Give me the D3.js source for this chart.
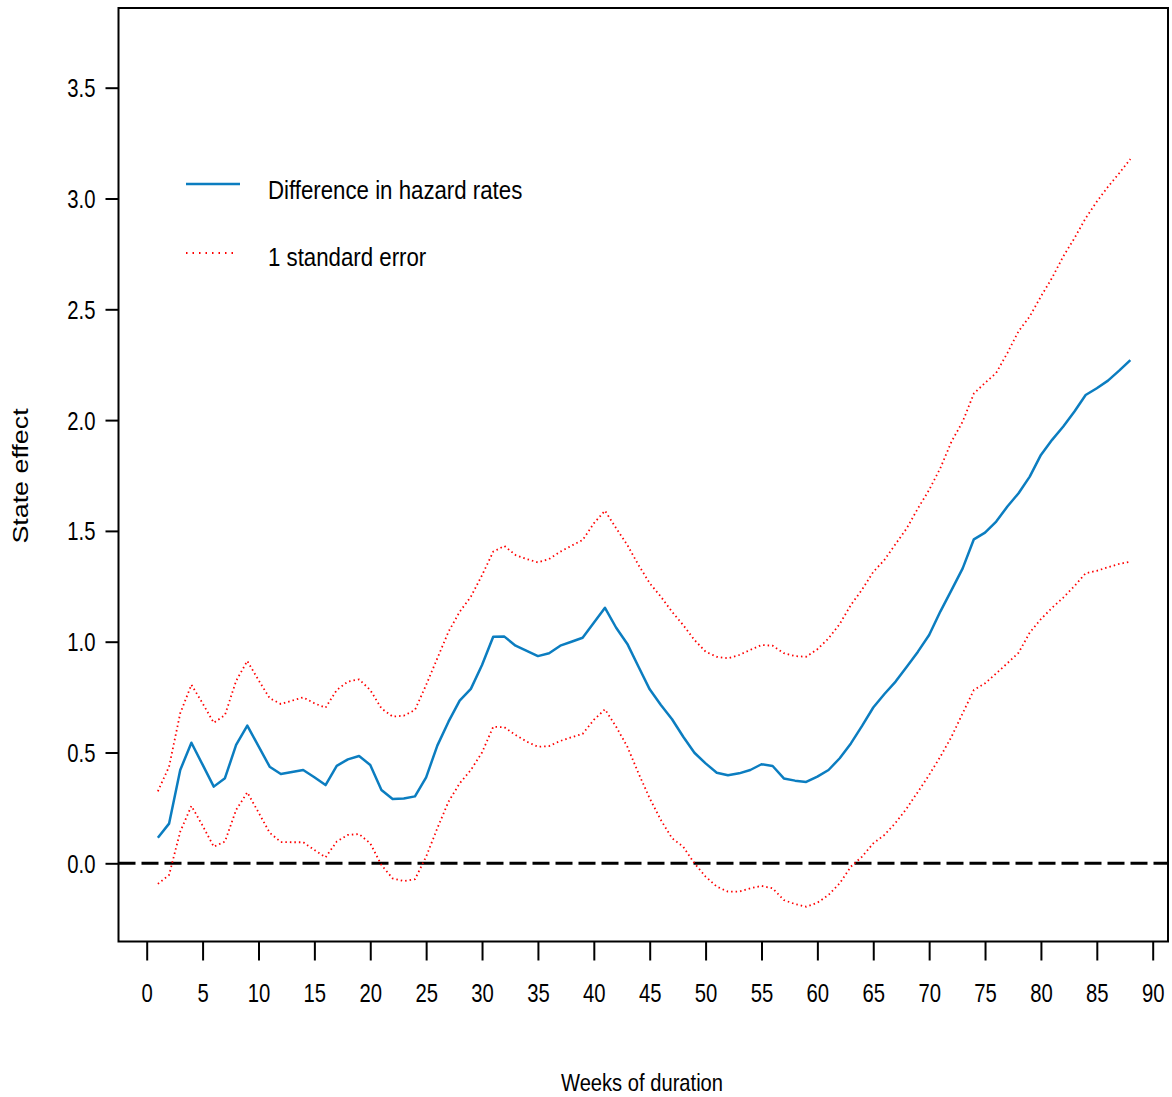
<!DOCTYPE html>
<html>
<head>
<meta charset="utf-8">
<script src="https://cdn.jsdelivr.net/npm/d3@7"></script>
<style>
  body { margin: 0; background: #fff; }
  svg text { fill: #000; }
</style>
</head>
<body>
<svg id="chart" width="1172" height="1097"></svg>
<script>
// weeks 1..88
const weeks = d3.range(1, 89);

const hazardDiff = [
  0.115, 0.179, 0.421, 0.544, 0.445, 0.346, 0.384, 0.534, 0.621, 0.529,
  0.436, 0.403, 0.412, 0.421, 0.388, 0.353, 0.440, 0.469, 0.484, 0.444,
  0.331, 0.290, 0.292, 0.302, 0.388, 0.531, 0.639, 0.734, 0.787, 0.895,
  1.022, 1.023, 0.982, 0.959, 0.935, 0.948, 0.982, 1.000, 1.018, 1.086,
  1.153, 1.063, 0.990, 0.887, 0.785, 0.714, 0.650, 0.571, 0.499, 0.451,
  0.409, 0.397, 0.406, 0.421, 0.447, 0.439, 0.383, 0.373, 0.367, 0.391,
  0.421, 0.474, 0.541, 0.620, 0.703, 0.764, 0.820, 0.887, 0.955, 1.030,
  1.136, 1.233, 1.331, 1.462, 1.492, 1.542, 1.610, 1.670, 1.745, 1.843,
  1.911, 1.971, 2.039, 2.113, 2.144, 2.178, 2.223, 2.271
];

const upperSE = [
  0.325, 0.436, 0.677, 0.806, 0.722, 0.634, 0.669, 0.823, 0.913, 0.827,
  0.745, 0.719, 0.734, 0.749, 0.722, 0.702, 0.782, 0.820, 0.830, 0.782,
  0.699, 0.662, 0.666, 0.692, 0.805, 0.925, 1.045, 1.135, 1.203, 1.300,
  1.406, 1.432, 1.391, 1.373, 1.358, 1.373, 1.406, 1.433, 1.459, 1.534,
  1.591, 1.512, 1.436, 1.346, 1.264, 1.203, 1.135, 1.075, 1.008, 0.955,
  0.932, 0.925, 0.940, 0.963, 0.985, 0.982, 0.948, 0.935, 0.932, 0.966,
  1.015, 1.080, 1.166, 1.235, 1.315, 1.369, 1.441, 1.512, 1.602, 1.685,
  1.783, 1.903, 1.993, 2.120, 2.168, 2.213, 2.303, 2.401, 2.468, 2.558,
  2.642, 2.739, 2.821, 2.911, 2.986, 3.053, 3.114, 3.178
];

const lowerSE = [
  -0.093, -0.053, 0.143, 0.259, 0.170, 0.075, 0.098, 0.241, 0.320, 0.230,
  0.138, 0.096, 0.095, 0.095, 0.060, 0.027, 0.098, 0.128, 0.132, 0.090,
  -0.008, -0.068, -0.080, -0.072, 0.030, 0.158, 0.278, 0.361, 0.421, 0.500,
  0.616, 0.614, 0.579, 0.549, 0.526, 0.529, 0.552, 0.569, 0.584, 0.647,
  0.695, 0.616, 0.526, 0.406, 0.293, 0.195, 0.113, 0.075, 0.000, -0.060,
  -0.105, -0.128, -0.128, -0.113, -0.102, -0.113, -0.166, -0.184, -0.196, -0.178,
  -0.143, -0.090, -0.015, 0.030, 0.090, 0.128, 0.183, 0.248, 0.323, 0.399,
  0.481, 0.571, 0.677, 0.782, 0.812, 0.857, 0.903, 0.950, 1.041, 1.102,
  1.153, 1.199, 1.251, 1.309, 1.320, 1.336, 1.351, 1.361
];

const xTicks = d3.range(0, 95, 5);
const yTicks = [0, 0.5, 1, 1.5, 2, 2.5, 3, 3.5];

const legendItems = ["Difference in hazard rates", "1 standard error"];

const blue = "#0b7dc0";
const red = "#ff0000";
const font = "'Liberation Sans', Arial, sans-serif";

const box = { left: 118.5, right: 1168, top: 8, bottom: 941.5 };

const svg = d3.select("#chart");

const x = d3.scaleLinear().domain([0, 90]).range([146.7, 1152.7]);
const y = d3.scaleLinear().domain([0, 3.5]).range([863.3, 87.7]);

// frame
svg.append("rect")
  .attr("x", box.left)
  .attr("y", box.top)
  .attr("width", box.right - box.left)
  .attr("height", box.bottom - box.top)
  .attr("fill", "none")
  .attr("stroke", "#000")
  .attr("stroke-width", 2);

// axes
const xAxis = svg.append("g")
  .attr("transform", `translate(0,${box.bottom})`)
  .call(d3.axisBottom(x).tickValues(xTicks).tickSize(19).tickFormat(d3.format("d")));

const yAxis = svg.append("g")
  .attr("transform", `translate(${box.left},0)`)
  .call(d3.axisLeft(y).tickValues(yTicks).tickSize(13).tickFormat(d3.format(".1f")));

[xAxis, yAxis].forEach(g => {
  g.select(".domain").remove();
  g.selectAll(".tick line").attr("stroke", "#000").attr("stroke-width", 2);
  g.selectAll(".tick text")
    .style("font-family", font)
    .style("font-size", "26px")
    .attr("fill", "#000")
    .attr("dy", null);
});

// condensed look of the original labels
xAxis.selectAll(".tick text")
  .attr("y", 0)
  .attr("transform", "translate(0,60) scale(0.78,1)");
yAxis.selectAll(".tick text")
  .attr("x", 0)
  .attr("transform", "translate(-23,9) scale(0.78,1)");

// zero reference line
svg.append("line")
  .attr("x1", box.left)
  .attr("x2", box.right)
  .attr("y1", y(0))
  .attr("y2", y(0))
  .attr("stroke", "#000")
  .attr("stroke-width", 3)
  .attr("stroke-dasharray", "17 6");

const line = d3.line()
  .x((d, i) => x(weeks[i]))
  .y(d => y(d));

[upperSE, lowerSE].forEach(s => {
  svg.append("path")
    .datum(s)
    .attr("d", line)
    .attr("fill", "none")
    .attr("stroke", red)
    .attr("stroke-width", 1.8)
    .attr("stroke-dasharray", "1.5 3");
});

svg.append("path")
  .datum(hazardDiff)
  .attr("d", line)
  .attr("fill", "none")
  .attr("stroke", blue)
  .attr("stroke-width", 2.5)
  .attr("stroke-linejoin", "round");

// legend
const legend = svg.append("g");
legend.append("line")
  .attr("x1", 186).attr("x2", 240).attr("y1", 184).attr("y2", 184)
  .attr("stroke", blue).attr("stroke-width", 2.5);
legend.append("line")
  .attr("x1", 186).attr("x2", 238).attr("y1", 253).attr("y2", 253)
  .attr("stroke", red).attr("stroke-width", 1.8).attr("stroke-dasharray", "1.5 5");
legend.selectAll("text.lab")
  .data(legendItems)
  .join("text")
  .attr("class", "lab")
  .attr("transform", (d, i) => `translate(268,${[199, 266][i]}) scale(0.89,1)`)
  .style("font-family", font)
  .style("font-size", "25px")
  .text(d => d);

// axis titles
svg.append("text")
  .attr("transform", "translate(642,1091) scale(0.84,1)")
  .attr("text-anchor", "middle")
  .style("font-family", font)
  .style("font-size", "24px")
  .text("Weeks of duration");

svg.append("text")
  .attr("transform", "translate(28,476) rotate(-90) scale(1.22,1)")
  .attr("text-anchor", "middle")
  .style("font-family", font)
  .style("font-size", "22px")
  .text("State effect");
</script>
</body>
</html>
